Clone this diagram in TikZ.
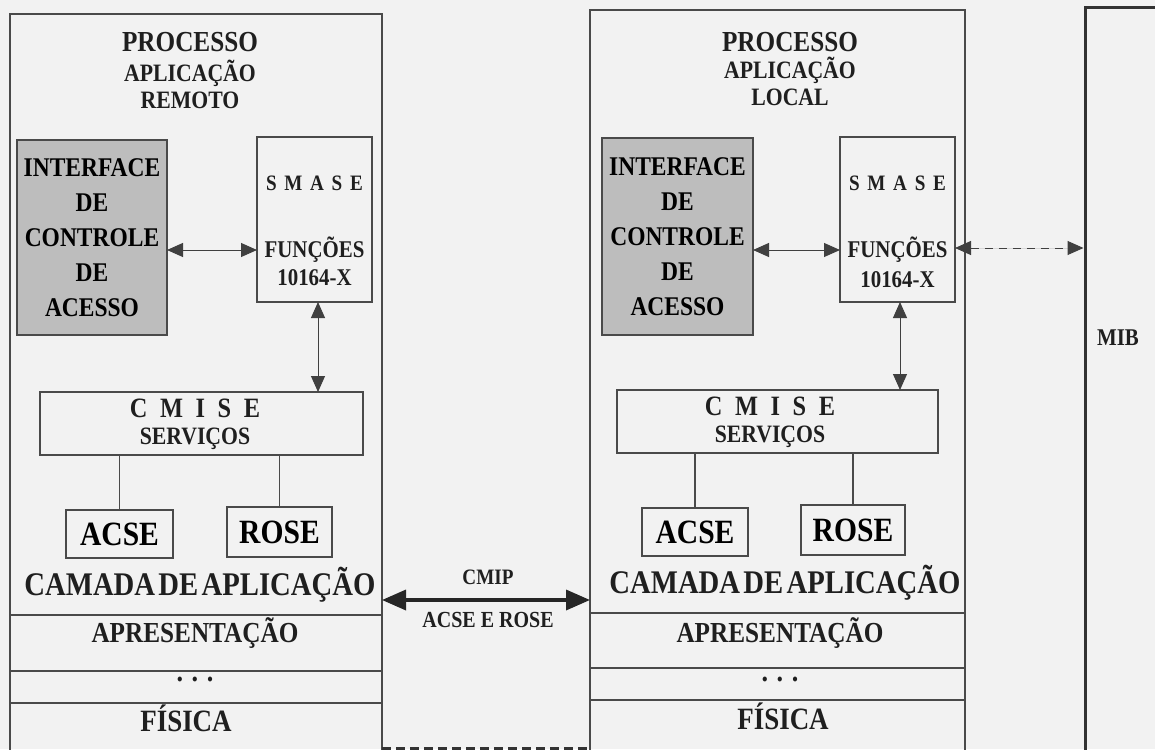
\documentclass[tikz,border=0pt]{standalone}
\usepackage{fontspec}
\setmainfont{Liberation Serif}[FakeStretch=0.87]
\usetikzlibrary{arrows.meta}
\newcommand\fsz[2]{\fontsize{#1}{#2}\selectfont}
\definecolor{lc}{HTML}{4A4A4A}
\definecolor{gbg}{HTML}{BDBDBD}
\definecolor{paper}{HTML}{F2F2F2}
\begin{document}
\begin{tikzpicture}[x=1pt,y=-1pt,
  box/.style={draw=lc, line width=1.1pt, inner sep=0pt, outer sep=0pt},
  gbox/.style={box, fill=gbg, align=center, font=\bfseries\fsz{27}{35}},
  t/.style={inner sep=0pt, font=\bfseries, text=black!88},
  arr/.style={{Triangle[length=16pt,width=14pt]}-{Triangle[length=16pt,width=14pt]}, line width=1pt, draw=black!75, fill=black!85},
  bigarr/.style={{Triangle[length=24pt,width=20pt]}-{Triangle[length=24pt,width=20pt]}, line width=3.5pt, draw=black!85},
  sep/.style={draw=lc, line width=1.1pt}
]
\fill[paper] (0,0) rectangle (1155,749);
\useasboundingbox (0,0) rectangle (1155,749);

% ---------- left stack ----------
\node[box, minimum width=372pt, minimum height=776pt] (lout) at (196,402) {};
\node[t, font=\bfseries\fsz{29}{29}] (lp1) at (190,42) {PROCESSO};
\node[t, font=\bfseries\fsz{25}{25}] (lp2) at (190,73) {APLICAÇÃO};
\node[t, font=\bfseries\fsz{25}{25}] (lp3) at (190,100) {REMOTO};
\node[gbox, minimum width=150pt, minimum height=195pt] (lgray) at (92,237.5) {INTERFACE\\DE\\CONTROLE\\DE\\ACESSO};
\node[box, minimum width=115pt, minimum height=165pt] (lsmase) at (314.5,219.5) {};
\node[t, font=\bfseries\fsz{22}{22}] (ls1) at (314.5,183) {S\hspace{.35em}M\hspace{.35em}A\hspace{.35em}S\hspace{.35em}E};
\node[t, font=\bfseries\fsz{24}{24}] (ls2) at (314.5,250) {FUNÇÕES};
\node[t, font=\bfseries\fsz{24}{24}] (ls3) at (314.5,278) {10164-X};
\node[box, minimum width=323pt, minimum height=63pt] (lcmise) at (201.5,423.5) {};
\node[t, font=\bfseries\fsz{28}{28}] (lc1) at (195,408) {C\hspace{.45em}M\hspace{.45em}I\hspace{.45em}S\hspace{.45em}E};
\node[t, font=\bfseries\fsz{25}{25}] (lc2) at (195,439) {SERVIÇOS};
\node[box, minimum width=107pt, minimum height=48pt, font=\bfseries\fsz{34}{34}] (lacse) at (119.5,534) {ACSE};
\node[box, minimum width=105pt, minimum height=50pt, font=\bfseries\fsz{34}{34}] (lrose) at (279.5,532) {ROSE};
\node[t, font=\bfseries\fsz{33}{33}] (lcam) at (200,585) {CAMADA\hspace{.1em}DE\hspace{.1em}APLICAÇÃO};
\node[t, font=\bfseries\fsz{29}{29}] (lapr) at (195,633) {APRESENTAÇÃO};
\node[t, font=\bfseries\fsz{30}{30}] (ldot) at (195,679) {. . .};
\node[t, font=\bfseries\fsz{31}{31}] (lfis) at (186,718) {FÍSICA};
\draw[sep] (lout.west |- 0,615) -- (lout.east |- 0,615);
\draw[sep] (lout.west |- 0,671) -- (lout.east |- 0,671);
\draw[sep] (lout.west |- 0,703) -- (lout.east |- 0,703);

% ---------- right stack ----------
\node[box, minimum width=375pt, minimum height=780pt] (rout) at (777.5,400) {};
\node[t, font=\bfseries\fsz{29}{29}] (rp1) at (790,42) {PROCESSO};
\node[t, font=\bfseries\fsz{25}{25}] (rp2) at (790,70) {APLICAÇÃO};
\node[t, font=\bfseries\fsz{25}{25}] (rp3) at (790,97) {LOCAL};
\node[gbox, minimum width=151pt, minimum height=197pt] (rgray) at (677.5,236.5) {INTERFACE\\DE\\CONTROLE\\DE\\ACESSO};
\node[box, minimum width=115pt, minimum height=165pt] (rsmase) at (897.5,219.5) {};
\node[t, font=\bfseries\fsz{22}{22}] (rs1) at (897.5,183) {S\hspace{.35em}M\hspace{.35em}A\hspace{.35em}S\hspace{.35em}E};
\node[t, font=\bfseries\fsz{24}{24}] (rs2) at (897.5,250) {FUNÇÕES};
\node[t, font=\bfseries\fsz{24}{24}] (rs3) at (897.5,280) {10164-X};
\node[box, minimum width=321pt, minimum height=63pt] (rcmise) at (777.5,421.5) {};
\node[t, font=\bfseries\fsz{28}{28}] (rc1) at (770,406) {C\hspace{.45em}M\hspace{.45em}I\hspace{.45em}S\hspace{.45em}E};
\node[t, font=\bfseries\fsz{25}{25}] (rc2) at (770,437) {SERVIÇOS};
\node[box, minimum width=106pt, minimum height=48pt, font=\bfseries\fsz{34}{34}] (racse) at (695,532) {ACSE};
\node[box, minimum width=104pt, minimum height=50pt, font=\bfseries\fsz{34}{34}] (rrose) at (853,530) {ROSE};
\node[t, font=\bfseries\fsz{33}{33}] (rcam) at (785,583) {CAMADA\hspace{.1em}DE\hspace{.1em}APLICAÇÃO};
\node[t, font=\bfseries\fsz{29}{29}] (rapr) at (780,633) {APRESENTAÇÃO};
\node[t, font=\bfseries\fsz{30}{30}] (rdot) at (780,679) {. . .};
\node[t, font=\bfseries\fsz{31}{31}] (rfis) at (783,716) {FÍSICA};
\draw[sep] (rout.west |- 0,613) -- (rout.east |- 0,613);
\draw[sep] (rout.west |- 0,668) -- (rout.east |- 0,668);
\draw[sep] (rout.west |- 0,700) -- (rout.east |- 0,700);

% ---------- MIB ----------
\node[draw=black!80, line width=3pt, inner sep=0pt, minimum width=115pt, minimum height=782pt] (mib) at (1142.5,399) {};
\node[t, font=\bfseries\fsz{24}{24}] (mibt) at (1118,338) {MIB};

% ---------- connectors ----------
\draw[arr] (lgray.east |- 0,250) -- (lsmase.west |- 0,250);
\draw[arr] (lsmase.south -| 318,0) -- (lcmise.north -| 318,0);
\draw[sep] (lcmise.south -| lacse.north) -- (lacse.north);
\draw[sep] (lcmise.south -| lrose.north) -- (lrose.north);

\draw[arr] (rgray.east |- 0,250) -- (rsmase.west |- 0,250);
\draw[arr] (rsmase.south -| 900,0) -- (rcmise.north -| 900,0);
\draw[sep] (rcmise.south -| racse.north) -- (racse.north);
\draw[sep] (rcmise.south -| rrose.north) -- (rrose.north);

\draw[arr, dash pattern=on 8pt off 6pt] (rsmase.east |- 0,248) -- (mib.west |- 0,248);

\draw[bigarr] (lout.east |- 0,600) -- (rout.west |- 0,600);
\node[t, font=\bfseries\fsz{22}{22}] (cmip) at (488,577) {CMIP};
\node[t, font=\bfseries\fsz{23}{23}] (acro) at (488,620) {ACSE E ROSE};

\draw[line width=3pt, draw=black!80, dash pattern=on 9pt off 5pt] (lout.east |- 0,748) -- (rout.west |- 0,748);
\end{tikzpicture}
\end{document}
